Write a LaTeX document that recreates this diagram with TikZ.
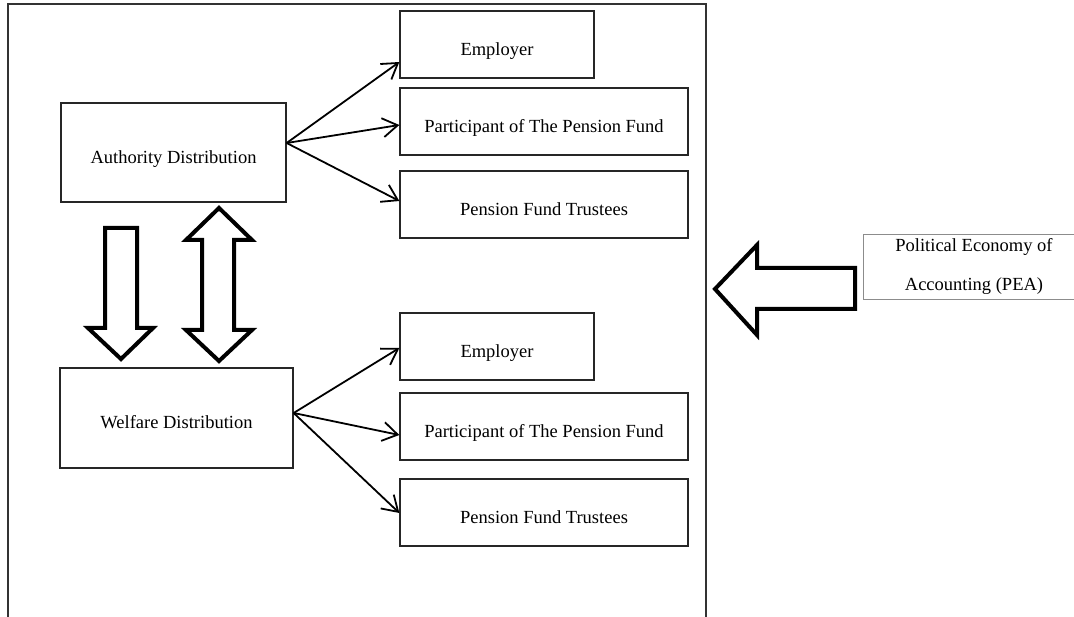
\documentclass[tikz,border=0pt]{standalone}
\usepackage{fontspec}
\setmainfont{Liberation Serif}
\usetikzlibrary{arrows.meta,calc}
\begin{document}
\begin{tikzpicture}[x=1pt,y=-1pt,
  frame/.style={draw=black!80, line width=1.4pt},
  box/.style={draw=black!85, line width=1.3pt, rectangle, inner sep=0pt,
    font=\fontsize{18.5}{22}\selectfont, text height=22pt, text depth=0pt},
  peabox/.style={draw=black!45, line width=0.8pt, rectangle, inner sep=0pt, align=center,
    font=\fontsize{18.5}{39}\selectfont},
  link/.style={line width=1.8pt, -{Straight Barb[length=15pt,width=19pt,line width=1.8pt]}},
  blockarrow/.style={draw=black, line width=4pt, line join=miter, miter limit=20}]
\useasboundingbox (0,0) rectangle (1074,617);
\clip (0,0) rectangle (1074,617);
\draw[frame] (8,640) -- (8,4) -- (706,4) -- (706,640);

\node[box, minimum width=225pt, minimum height=99pt] (auth) at (173.5,152.5) {Authority Distribution};
\node[box, minimum width=194pt, minimum height=67pt] (emp1) at (497,44.5) {Employer};
\node[box, minimum width=288pt, minimum height=67pt] (par1) at (544,121.5) {Participant of The Pension Fund};
\node[box, minimum width=288pt, minimum height=67pt] (tru1) at (544,204.5) {Pension Fund Trustees};

\node[box, minimum width=233pt, minimum height=100pt] (wel) at (176.5,418) {Welfare Distribution};
\node[box, minimum width=194pt, minimum height=67pt] (emp2) at (497,346.5) {Employer};
\node[box, minimum width=288pt, minimum height=67pt] (par2) at (544,426.5) {Participant of The Pension Fund};
\node[box, minimum width=288pt, minimum height=67pt] (tru2) at (544,512.5) {Pension Fund Trustees};

\node[peabox, minimum width=222pt, minimum height=65pt] (pea) at (974,266.5) {Political Economy of\\Accounting (PEA)};

\coordinate (ao) at ($(auth.east)+(0,-9.5)$);
\draw[link] (ao) -- ($(emp1.west)+(0,17.5)$);
\draw[link] (ao) -- ($(par1.west)+(0,3.5)$);
\draw[link] (ao) -- ($(tru1.west)+(0,-3.5)$);

\coordinate (wo) at ($(wel.east)+(0,-5)$);
\draw[link] (wo) -- ($(emp2.west)+(0,1.5)$);
\draw[link] (wo) -- ($(par2.west)+(0,8.5)$);
\draw[link] (wo) -- ($(tru2.west)+(0,0.5)$);

% block arrows
\draw[blockarrow] (105,228) -- (137,228) -- (137,328) -- (153,328) -- (121,359) -- (88,328) -- (105,328) -- cycle;
\draw[blockarrow] (219,208) -- (252,240) -- (234,240) -- (234,330) -- (252,330) -- (219,361) -- (186,330) -- (202,330) -- (202,240) -- (186,240) -- cycle;
\draw[blockarrow] (715,289) -- (757,245) -- (757,268) -- (855,268) -- (855,309) -- (757,309) -- (757,335) -- cycle;
\end{tikzpicture}
\end{document}
